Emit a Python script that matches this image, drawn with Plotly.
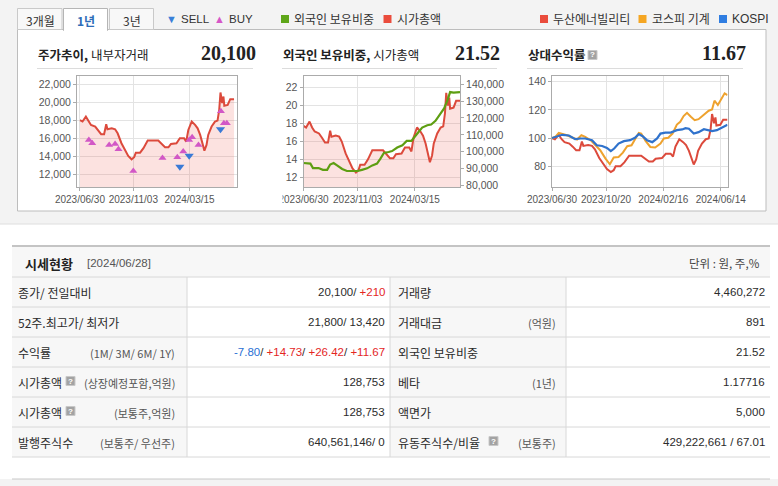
import pandas as pd
import plotly.graph_objects as go

W, H = 778, 486
KR = "Noto Sans CJK KR"
NUM = "Liberation Sans"
SERIF = "Liberation Serif"

# ---------------- DATA ----------------
BASE_DATE = "2023-06-30"

# 주가추이 (close price, won) - day offsets from BASE_DATE
price_days = [0, 6, 14, 20, 26, 36, 43, 50, 57, 62,
              65, 75, 83, 89, 98, 106, 114, 122, 128, 132,
              142, 150, 160, 185, 193, 201, 209, 215, 228, 236,
              246, 251, 256, 264, 272, 278, 284, 290, 294, 299,
              303, 311, 319, 325, 329, 332, 336, 339, 341, 349,
              355, 364]
price_close = [18000, 17850, 18400, 17850, 17480, 17300, 16900, 16450, 16450, 17550,
               17000, 17100, 17000, 16550, 15450, 14700, 14050, 13670, 13900, 14400,
               14400, 14900, 15740, 15740, 15370, 15000, 15000, 15370, 15440, 16000,
               16000, 15630, 16920, 17850, 17480, 17100, 16370, 15150, 14630, 15260,
               16370, 17300, 17850, 17960, 19150, 21070, 19890, 20630, 19600, 19700,
               20330, 20330]

# 내부자거래
buy_days = [21, 29, 69, 83, 91, 126, 195, 230, 244, 258, 265, 280, 333, 340, 347]
buy_price = [15815, 15440, 15260, 15370, 14780, 12370, 13810, 13890, 14520, 15815,
             16110, 15260, 19000, 17670, 17670]
sell_days = [236, 258, 332]
sell_price = [12850, 14070, 17000]

# 외국인 보유비중 (%)
frgn_days = [0, 16, 22, 35, 45, 55, 62, 70, 78, 90,
             101, 117, 126, 136, 148, 160, 171, 179, 187, 198,
             206, 218, 230, 240, 251, 261, 268, 276, 288, 297,
             307, 319, 327, 335, 341, 349, 364]
frgn_pct = [13.57, 13.5, 13.0, 13.0, 12.8, 12.8, 13.4, 13.57, 13.3, 12.9,
            12.67, 12.64, 12.67, 12.8, 12.97, 13.3, 13.5, 14.06, 14.7, 14.8,
            14.9, 15.3, 15.56, 16.04, 16.04, 16.64, 17.13, 17.54, 17.8, 17.88,
            18.29, 19.19, 19.68, 20.6, 21.51, 21.44, 21.5]

# 상대수익률 - KOSPI
kospi_days = [0, 10, 21, 35, 48, 59, 69, 83, 93, 104,
              114, 122, 129, 138, 149, 162, 172, 180, 188, 197,
              208, 218, 225, 235, 246, 259, 270, 277, 284, 294,
              304, 315, 323, 332, 342, 353, 364]
kospi_rel = [100, 100.9, 102.3, 101.8, 99.2, 99.7, 99.7, 98.5, 94.9, 94.4,
             93.0, 90.7, 92.6, 96.1, 97.8, 98.5, 100.2, 102.8, 101.3, 98.5,
             97.1, 99.7, 103.2, 103.9, 103.9, 105.6, 106.1, 107.0, 106.6, 103.2,
             104.2, 106.3, 105.6, 104.9, 105.6, 107.5, 109.4]

# 상대수익률 - 코스피 기계
mach_days = [0, 7, 14, 21, 31, 42, 52, 61, 69, 80,
             90, 100, 111, 120, 128, 138, 147, 156, 165, 173,
             180, 185, 194, 204, 214, 225, 232, 241, 250, 259,
             266, 273, 280, 288, 296, 304, 315, 325, 332, 337,
             344, 351, 358, 364]
mach_rel = [100, 100.9, 103.7, 103.2, 102, 100.4, 99, 102, 100.9, 98.5,
            94.9, 91.4, 85.4, 81.4, 86.2, 86.6, 89.7, 94.2, 94.9, 99.7,
            103.7, 103.2, 98, 93.7, 93.3, 96.1, 99.7, 100.2, 103.2, 109.6,
            111.5, 115.6, 117.9, 115.1, 112.7, 113.4, 116.8, 119.4, 120.3, 126.5,
            123.4, 127.4, 131.7, 130.5]

SHARES_COMMON = 640561146  # 발행주식수 (보통주)

ticks_a = ["2023-06-30", "2023-11-03", "2024-03-15"]
ticks_b = ["2023-06-30", "2023-10-20", "2024-02-16", "2024-06-14"]
price_ticks = [12000, 14000, 16000, 18000, 20000, 22000]
pct_ticks = [12, 14, 16, 18, 20, 22]
mcap_ticks = [80000, 90000, 100000, 110000, 120000, 130000, 140000]
rel_ticks = [80, 100, 120, 140]

headline = {"price": "20,100", "frgn": "21.52", "rel": "11.67"}

tbl_left_label = ["종가/ 전일대비", "52주.최고가/ 최저가", "수익률", "시가총액", "시가총액", "발행주식수"]
tbl_left_sub = ["", "", "(1M/ 3M/ 6M/ 1Y)", "(상장예정포함,억원)", "(보통주,억원)", "(보통주/ 우선주)"]
tbl_left_value = ["20,100/ <span style='color:#e4261f'>+210</span>",
                  "21,800/ 13,420",
                  "<span style='color:#2a6fd4'>-7.80</span>/ <span style='color:#e4261f'>+14.73</span>/ "
                  "<span style='color:#e4261f'>+26.42</span>/ <span style='color:#e4261f'>+11.67</span>",
                  "128,753", "128,753", "640,561,146/ 0"]
tbl_right_label = ["거래량", "거래대금", "외국인 보유비중", "베타", "액면가", "유동주식수/비율"]
tbl_right_sub = ["", "(억원)", "", "(1년)", "", "(보통주)"]
tbl_right_value = ["4,460,272", "891", "21.52", "1.17716", "5,000", "429,222,661 / 67.01"]
help_left = [False, False, False, True, True, False]
help_right = [False, False, False, False, False, True]


# ---------------- helpers ----------------
def to_dates(days):
    base = pd.Timestamp(BASE_DATE)
    return [base + pd.Timedelta(days=int(d)) for d in days]


def px(x):
    return x / W


def py(y):
    return 1 - y / H


shapes, annots = [], []


def rect(x0, y0, x1, y1, fill=None, line=None, lw=1, layer="below"):
    shapes.append(dict(type="rect", xref="paper", yref="paper",
                       x0=px(x0), x1=px(x1), y0=py(y1), y1=py(y0),
                       fillcolor=fill or "rgba(0,0,0,0)",
                       line=dict(color=line or "rgba(0,0,0,0)", width=lw if line else 0),
                       layer=layer))


def hline(x0, x1, y, color="#d9d9d9", lw=1, layer="below"):
    shapes.append(dict(type="line", xref="paper", yref="paper",
                       x0=px(x0), x1=px(x1), y0=py(y), y1=py(y),
                       line=dict(color=color, width=lw), layer=layer))


def vline(x, y0, y1, color="#d9d9d9", lw=1, layer="below"):
    shapes.append(dict(type="line", xref="paper", yref="paper",
                       x0=px(x), x1=px(x), y0=py(y0), y1=py(y1),
                       line=dict(color=color, width=lw), layer=layer))


def text(x, y, s, size=12, color="#333", anchor="left", family=KR):
    annots.append(dict(x=px(x), y=py(y), xref="paper", yref="paper", text=s,
                       showarrow=False, xanchor=anchor, yanchor="middle",
                       font=dict(size=size, color=color, family=family)))


def help_icon(x, y):
    rect(x, y - 4.5, x + 9, y + 4.5, fill="#a3a3a3", line="#c8c8c8", lw=1, layer="above")
    text(x + 4.5, y, "<b>?</b>", size=8, color="white", anchor="center", family=NUM)


# ---------------- page background / panel ----------------
rect(0, 0, W, 224, fill="#f3f3f3")
hline(0, W, 224, color="#dedede")
rect(17.5, 29.5, 766, 211, fill="white", line="#bdbdbd")
# tabs
rect(17.5, 8.5, 62, 29.5, fill="#f8f8f8", line="#c9c9c9")
rect(109.5, 8.5, 153.5, 29.5, fill="#f8f8f8", line="#c9c9c9")
rect(63.5, 8.5, 107.5, 30.5, fill="white", line="#b5b5b5", layer="above")
hline(64, 107, 30, color="white", lw=2, layer="above")
text(40, 20, "3개월", 12, "#333", "center")
text(85.5, 20, "<b>1년</b>", 12, "#2d6cb8", "center")
text(131.5, 20, "3년", 12, "#333", "center")

# legend
text(164, 19, "<span style='color:#3a7fd8'>▼</span>", 11, "#333", "left", NUM)
text(179, 19, "SELL", 11.5, "#333", "left", NUM)
text(212, 19, "<span style='color:#d657c8'>▲</span>", 11, "#333", "left", NUM)
text(227, 19, "BUY", 11.5, "#333", "left", NUM)
legend_sq = [(281, "#5ea619", "외국인 보유비중"), (383.5, "#ea4c3c", "시가총액"),
             (540, "#ea4c3c", "두산에너빌리티"), (638.5, "#f5a623", "코스피 기계"),
             (719, "#2f7de1", "KOSPI")]
for x, c, lab in legend_sq:
    rect(x, 15, x + 8, 23, fill=c)
    text(x + 11, 19, lab, 12, "#333", "left", NUM if lab == "KOSPI" else KR)

# chart titles
titles = [(37, 257, "<b>주가추이,</b> 내부자거래", headline["price"]),
          (282, 501, "<b>외국인 보유비중,</b> 시가총액", headline["frgn"]),
          (527, 747, "<b>상대수익률</b>", headline["rel"])]
for x0, x1, t, v in titles:
    text(x0 - 1, 54, t, 12.5, "#222", "left")
    text(x1 + 1, 53, "<b>" + v + "</b>", 20, "#222", "right", SERIF)
    hline(x0, x1 - 4, 68.5, color="#dcdcdc")
help_icon(588, 55)

# ---------------- table ----------------
TL, TR = 12, 770
C1, C2, C3 = 187, 390, 566
ROW0, RH = 277, 30
nrows = len(tbl_left_label)
rect(TL, 246, TR, ROW0, fill="#f7f7f7")
rect(TL, ROW0, C1, ROW0 + RH * nrows, fill="#f7f7f7")
rect(C2, ROW0, C3, ROW0 + RH * nrows, fill="#f7f7f7")
hline(TL, TR, 246, color="#c4c4c4", lw=2)
for i in range(nrows + 1):
    hline(TL, TR, ROW0 + RH * i, color="#d8d8d8")
for cx in (C1, C2, C3):
    vline(cx, ROW0, ROW0 + RH * nrows, color="#d8d8d8")
text(23, 263, "<b>시세현황</b>", 13, "#222", "left")
text(85, 263, "[2024/06/28]", 11.5, "#555", "left", NUM)
text(762, 263, "단위 : 원, 주,%", 11.5, "#444", "right")

for i in range(nrows):
    cy = ROW0 + RH * i + 15
    text(16, cy, tbl_left_label[i], 12, "#2b2b2b", "left")
    if help_left[i]:
        help_icon(66, cy - 1)
    if tbl_left_sub[i]:
        text(177, cy + 1, tbl_left_sub[i], 11, "#555", "right")
    text(387, cy, tbl_left_value[i], 11.5, "#2b2b2b", "right", NUM)
    text(396, cy, tbl_right_label[i], 12, "#2b2b2b", "left")
    if help_right[i]:
        help_icon(489, cy - 1)
    if tbl_right_sub[i]:
        text(558, cy + 1, tbl_right_sub[i], 11, "#555", "right")
    text(767, cy, tbl_right_value[i], 11.5, "#2b2b2b", "right", NUM)

rect(0, 479, W, H, fill="#f3f3f3")
hline(TL, TR, 479, color="#c8c8c8", lw=1)

# ---------------- charts ----------------
RED = "#dc4a3c"
PINK = "rgba(240,110,100,0.2)"
GREEN = "#5e9e12"
ORANGE = "#eea22e"
BLUE = "#2f72cc"

fig = go.Figure()
price_dates = to_dates(price_days)
mcap = [p * SHARES_COMMON / 1e8 for p in price_close]
rel_doosan = [p / price_close[0] * 100 for p in price_close]

fig.add_trace(go.Scatter(x=price_dates, y=price_close, mode="lines", fill="tozeroy",
                         fillcolor=PINK, line=dict(color=RED, width=2), xaxis="x", yaxis="y"))
fig.add_trace(go.Scatter(x=to_dates(buy_days), y=buy_price, mode="markers",
                         marker=dict(symbol="triangle-up", size=7, color="#d257c6"),
                         xaxis="x", yaxis="y"))
fig.add_trace(go.Scatter(x=to_dates(sell_days), y=sell_price, mode="markers",
                         marker=dict(symbol="triangle-down", size=8, color="#3a7ad6"),
                         xaxis="x", yaxis="y"))
fig.add_trace(go.Scatter(x=price_dates, y=mcap, mode="lines", fill="tozeroy",
                         fillcolor=PINK, line=dict(color=RED, width=2), xaxis="x2", yaxis="y2"))
fig.add_trace(go.Scatter(x=to_dates(frgn_days), y=frgn_pct, mode="lines",
                         line=dict(color=GREEN, width=2.2), xaxis="x2", yaxis="y3"))
fig.add_trace(go.Scatter(x=price_dates, y=rel_doosan, mode="lines",
                         line=dict(color=RED, width=2), xaxis="x3", yaxis="y4"))
fig.add_trace(go.Scatter(x=to_dates(mach_days), y=mach_rel, mode="lines",
                         line=dict(color=ORANGE, width=2), xaxis="x3", yaxis="y4"))
fig.add_trace(go.Scatter(x=to_dates(kospi_days), y=kospi_rel, mode="lines",
                         line=dict(color=BLUE, width=2.2), xaxis="x3", yaxis="y4"))

TICKFONT = dict(family=NUM, size=10, color="#555")
AX = dict(showline=True, linecolor="#ababab", linewidth=1, mirror=True, ticks="outside",
          ticklen=3, tickcolor="#ababab", showgrid=True, gridcolor="#e3e3e3", gridwidth=1,
          zeroline=False, tickfont=TICKFONT, fixedrange=True, automargin=False)


def xax(x0, x1, rng, tv, anchor):
    d = dict(AX)
    d.update(domain=[px(x0), px(x1)], type="date", range=rng, tickvals=tv,
             ticktext=[t.replace("-", "/") for t in tv], anchor=anchor, tickangle=0)
    return d


def yax(rng, tv, anchor, fmt=",", **kw):
    d = dict(AX)
    d.update(domain=[py(187), py(76)], range=rng, tickvals=tv, tickformat=fmt, anchor=anchor,
             tickfont=dict(family=NUM, size=10.5, color="#555"))
    d.update(kw)
    return d


end_date = to_dates([price_days[-1]])[0]
start_date = pd.Timestamp(BASE_DATE)
pad = pd.Timedelta(days=7)

# clip the first date label of the middle chart like the original widget
rect(274, 190, 282.5, 207, fill="white", layer="above")

fig.update_layout(
    template="none",
    width=W, height=H, margin=dict(l=0, r=0, t=0, b=0, pad=0), autosize=False,
    paper_bgcolor="white", plot_bgcolor="white", showlegend=False, hovermode=False,
    xaxis=xax(77, 237, [start_date - pad, end_date + pad], ticks_a, "y"),
    yaxis=yax([10600, 22900], price_ticks, "x"),
    xaxis2=xax(303.5, 460, [start_date, end_date], ticks_a, "y2"),
    yaxis2=yax([78990, 144950], mcap_ticks, "x2", side="right", showgrid=False),
    yaxis3=yax([10.88, 23.31], pct_ticks, "x2", fmt="d", side="left", overlaying="y2"),
    xaxis3=xax(552, 727.5, [start_date, end_date], ticks_b, "y4"),
    yaxis4=yax([65.3, 144], rel_ticks, "x3", fmt="d"),
    shapes=shapes, annotations=annots,
)

fig.write_html("out.html", config={"displayModeBar": False, "staticPlot": True},
               post_script="document.body.style.margin='0';document.body.style.overflow='hidden';")
